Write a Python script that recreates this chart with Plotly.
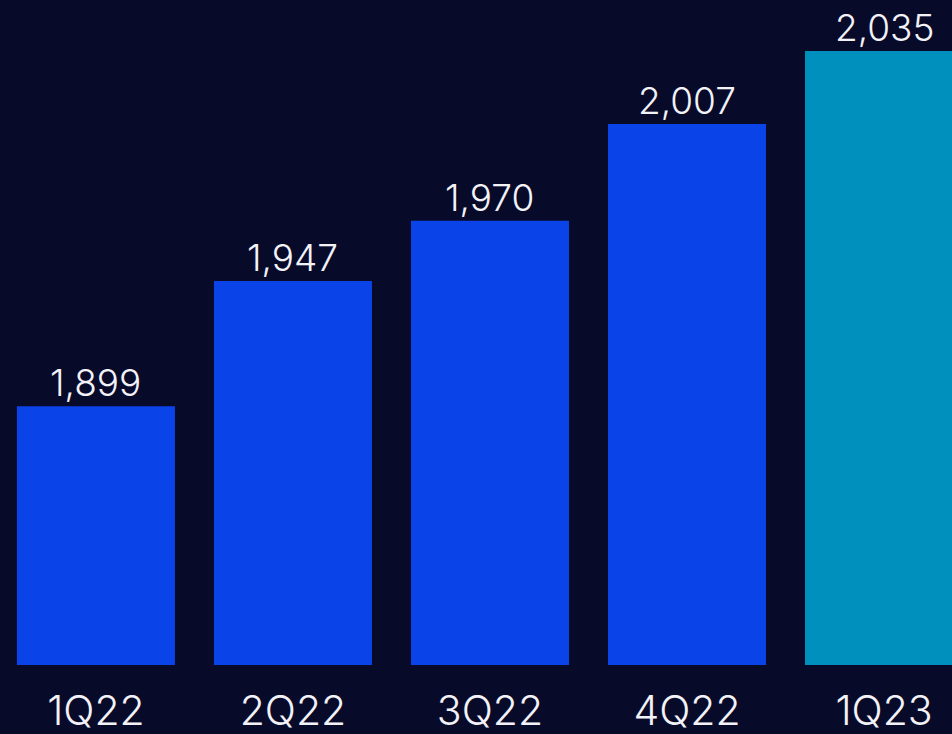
import plotly.graph_objects as go

quarters = ["1Q22", "2Q22", "3Q22", "4Q22", "1Q23"]
values = [1899, 1947, 1970, 2007, 2035]
bar_colors = ["#0A43E8", "#0A43E8", "#0A43E8", "#0A43E8", "#0090BD"]

BG = "#080A2A"
TEXT = "#F2F2F7"
FONT = "Inter"

fig = go.Figure(
    go.Bar(
        x=quarters,
        y=values,
        marker=dict(color=bar_colors, line=dict(width=0)),
        width=0.802,
        hoverinfo="skip",
    )
)

for q, v in zip(quarters, values):
    fig.add_annotation(
        x=q, y=v, text=f"{v:,}", showarrow=False,
        yanchor="bottom", yshift=-1,
        font=dict(family=FONT, size=37, color=TEXT, weight=300),
    )

fig.update_layout(
    width=952, height=734,
    margin=dict(l=0, r=0, t=0, b=69),
    paper_bgcolor=BG, plot_bgcolor=BG,
    showlegend=False,
    xaxis=dict(
        type="category", range=[-0.487, 4.345],
        showgrid=False, zeroline=False, showline=False, ticks="",
        tickfont=dict(family=FONT, size=41, color=TEXT, weight=300),
        ticklabelstandoff=18,
    ),
    yaxis=dict(
        range=[1800, 2054.5], visible=False,
        showgrid=False, zeroline=False,
    ),
)

fig.write_html("out.html")
